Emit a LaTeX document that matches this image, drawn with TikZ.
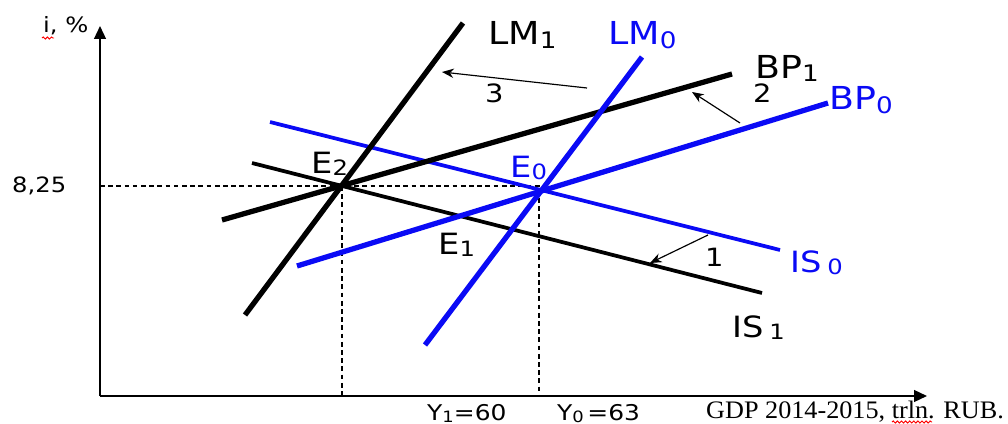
\documentclass[tikz,border=0pt]{standalone}
\usepackage{fontspec}
\usepackage{graphicx}
\setmainfont[FakeStretch=1.04]{Liberation Serif}
\newfontfamily\lab[FakeStretch=1.15]{DejaVu Sans}
\usetikzlibrary{arrows.meta,decorations.pathmorphing}
\definecolor{myblue}{RGB}{10,10,245}
\newcommand\lowsub[1]{\raisebox{-0.1em}{\scalebox{0.72}{#1}}}
\tikzset{
  big/.style={font=\lab\fontsize{27}{32}\selectfont, inner sep=0pt, anchor=base west},
  mid/.style={font=\lab\fontsize{25}{30}\selectfont, inner sep=0pt, anchor=base west},
  num/.style={font=\lab\fontsize{21.5}{25}\selectfont, inner sep=0pt, anchor=base west},
  ylab/.style={font=\lab\fontsize{18.5}{22}\selectfont, inner sep=0pt, anchor=base west},
  small/.style={font=\lab\fontsize{18}{21}\selectfont, inner sep=0pt, anchor=base west},
  thickline/.style={line width=4.5pt},
  isline/.style={line width=3.2pt},
  shiftarrow/.style={line width=1pt, -{Stealth[length=10pt,width=8pt]}},
  axis/.style={line width=1.6pt, -{Triangle[length=11pt,width=10pt]}},
  guide/.style={line width=1pt, dash pattern=on 4pt off 3pt},
  squiggle/.style={red, line width=0.8pt, decorate, decoration={snake, amplitude=0.9pt, segment length=3.5pt}}
}
\begin{document}
\begin{tikzpicture}[x=0.03cm,y=-0.03cm]
\useasboundingbox (0,0) rectangle (1008,424);
% axes
\coordinate (O) at (100,396);
\coordinate (Ytop) at (100,26);
\coordinate (Xend) at (927,396);
\draw[axis] (O) -- (Ytop);
\draw[axis] (O) -- (Xend);
% equilibrium points
\coordinate (E2p) at (342,186);
\coordinate (Yax) at (100,186);
\coordinate (Y1b) at (342,396);
\coordinate (Y0b) at (539,396);
\coordinate (E0h) at (539,186);
\draw[guide] (Yax) -- (E0h) -- (Y0b);
\draw[guide] (E2p) -- (Y1b);
% curves
\coordinate (LM1a) at (245,315); \coordinate (LM1b) at (463,23);
\coordinate (LM0a) at (425,345); \coordinate (LM0b) at (642,57);
\coordinate (BP1a) at (222,220); \coordinate (BP1b) at (732,74);
\coordinate (BP0a) at (297,266); \coordinate (BP0b) at (828,103);
\coordinate (IS0a) at (270,122); \coordinate (IS0b) at (780,250);
\coordinate (IS1a) at (252,163); \coordinate (IS1b) at (762,293);
\draw[isline, myblue] (IS0a) -- (IS0b);
\draw[isline, black] (IS1a) -- (IS1b);
\draw[thickline, myblue] (BP0a) -- (BP0b);
\draw[thickline, black] (BP1a) -- (BP1b);
\draw[thickline, myblue] (LM0a) -- (LM0b);
\draw[thickline, black] (LM1a) -- (LM1b);
% shift arrows
\coordinate (A3t) at (587,88); \coordinate (A3h) at (442,72);
\coordinate (A2t) at (740,123); \coordinate (A2h) at (692,92);
\coordinate (A1t) at (708,235); \coordinate (A1h) at (650,263);
\draw[shiftarrow] (A3t) -- (A3h);
\draw[shiftarrow] (A2t) -- (A2h);
\draw[shiftarrow] (A1t) -- (A1h);
% labels
\node[big] (lLM1) at (488,45) {LM\lowsub{1}};
\node[big, text=myblue] (lLM0) at (608,45) {LM\lowsub{0}};
\node[big] (lBP1) at (755,78) {BP\lowsub{1}};
\node[big, text=myblue] (lBP0) at (829,110) {BP\lowsub{0}};
\node[num] (l2) at (753,102) {2};
\node[num] (l3) at (485,102) {3};
\node[num] (l1) at (705,266) {1};
\node[mid] (lE2) at (311,173) {E\lowsub{2}};
\node[mid, text=myblue] (lE0) at (510,177) {E\lowsub{0}};
\node[mid] (lE1) at (438,254) {E\lowsub{1}};
\node[mid, text=myblue] (lIS0) at (790,272) {IS\hspace{0.2em}\lowsub{0}};
\node[mid] (lIS1) at (732,337) {IS\hspace{0.2em}\lowsub{1}};
\node[ylab] (lY1) at (427,420) {Y\lowsub{1}=60};
\node[ylab] (lY0) at (557,420) {Y\lowsub{0}\,=63};
\node[small] (li) at (43,33) {i, \%};
\node[small] (l825) at (12,192) {8,25};
\node[font=\fontsize{21.5}{25}\selectfont, inner sep=0pt, anchor=base west] (lgdp) at (706,418) {GDP 2014-2015, trln. RUB.};
% spell-check marks
\coordinate (sq1a) at (42,38); \coordinate (sq1b) at (54,38);
\coordinate (sq2a) at (892,422); \coordinate (sq2b) at (932,422);
\draw[squiggle] (sq1a) -- (sq1b);
\draw[squiggle] (sq2a) -- (sq2b);
\end{tikzpicture}
\end{document}
